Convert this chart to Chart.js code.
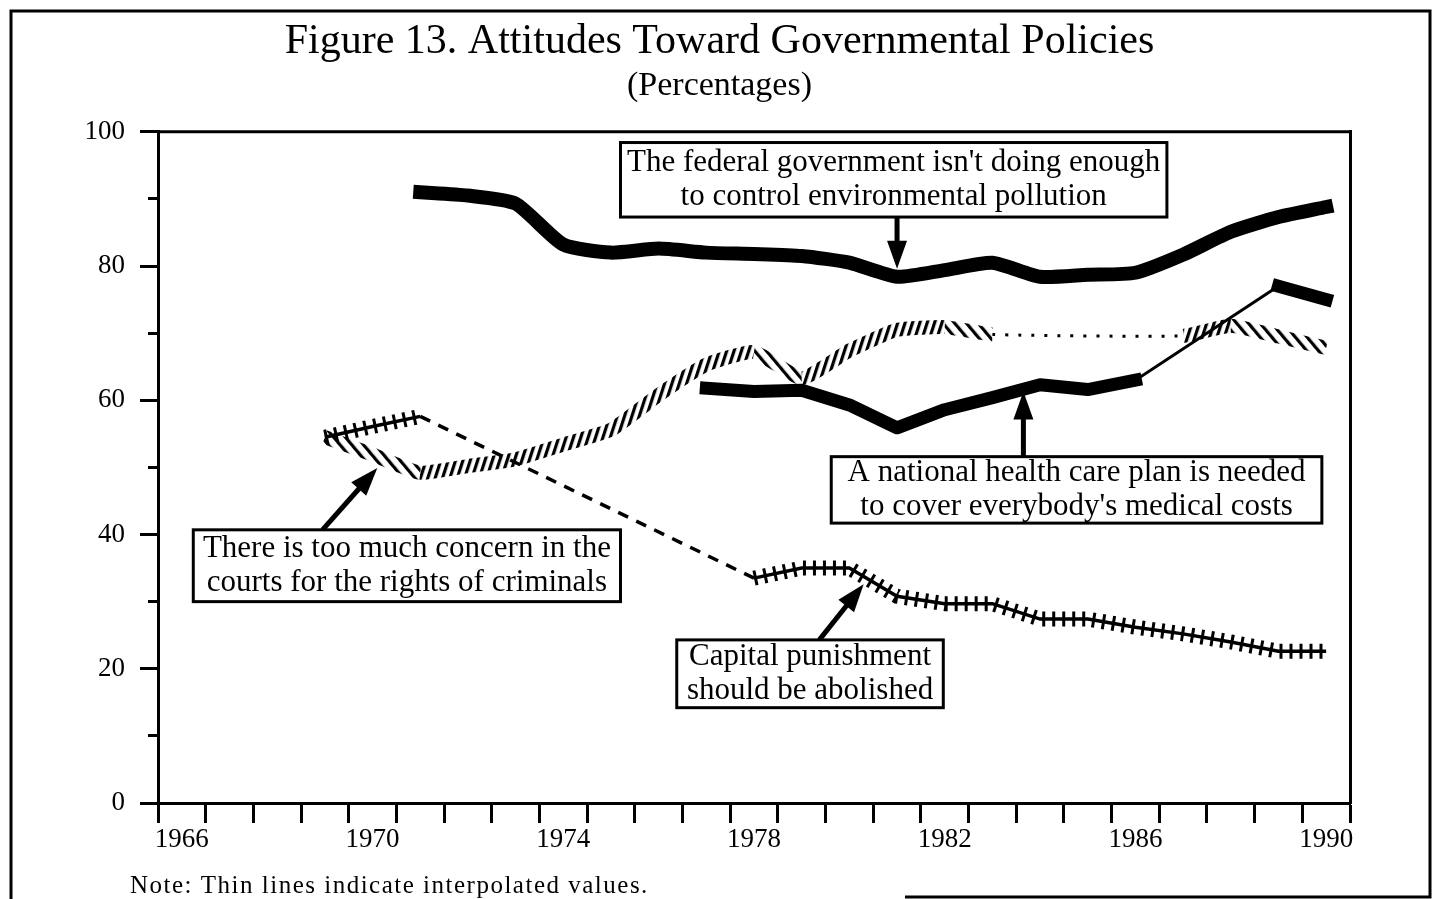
<!DOCTYPE html>
<html>
<head>
<meta charset="utf-8">
<title>Figure 13. Attitudes Toward Governmental Policies</title>
<style>
  html, body { margin: 0; padding: 0; background: #fff; }
  canvas { display: block; }
</style>
<script src="https://cdn.jsdelivr.net/npm/chart.js@4.4.1/dist/chart.umd.min.js"></script>
</head>
<body>
<canvas id="fig" width="1439" height="899"></canvas>
<script>
/* Figure 13 - attitudes toward governmental policies, 1966-1990 */
const tickYears = [1966, 1967, 1968, 1969, 1970, 1971, 1972, 1973, 1974, 1975, 1976, 1977, 1978,
  1979, 1980, 1981, 1982, 1983, 1984, 1985, 1986, 1987, 1988, 1989, 1990];
const labeledYears = [1966, 1970, 1974, 1978, 1982, 1986, 1990];

// environment: gov't not doing enough to control pollution
const envYears = [1971, 1972, 1973, 1974, 1975, 1976, 1977, 1978, 1979, 1980,
  1981, 1982, 1983, 1984, 1985, 1986, 1987, 1988, 1989, 1990];
const envValues = [91, 90.5, 89.3, 83.2, 82, 82.6, 82, 81.8, 81.5, 80.5,
  78.4, 79.4, 80.5, 78.4, 78.7, 79, 81.7, 85.1, 87.3, 88.8];

// national health care plan (1987-88 interpolated)
const healthYears = [1977, 1978, 1979, 1980, 1981, 1982, 1983, 1984, 1985, 1986, 1989, 1990];
const healthValues = [61.8, 61.3, 61.5, 59.3, 55.9, 58.6, 60.4, 62.3, 61.6, 63, 77, 75];

// courts too concerned with rights of criminals (1984-86 interpolated)
const courtsYears = [1969, 1970, 1971, 1972, 1973, 1974, 1975, 1976, 1977, 1978,
  1979, 1980, 1981, 1982, 1983, 1987, 1988, 1989, 1990];
const courtsValues = [54.5, 51.9, 49.2, 50.2, 51.2, 53.4, 55.6, 60.8, 65.3, 67.2,
  63.3, 67.4, 70.5, 70.9, 69.8, 69.6, 71.1, 69.5, 67.8];

// capital punishment should be abolished (1972-77 interpolated)
const capitalYears = [1969, 1970, 1971, 1978, 1979, 1980, 1981, 1982, 1983, 1984,
  1985, 1986, 1987, 1988, 1989, 1990];
const capitalValues = [54.5, 56.1, 57.6, 33.5, 35, 35, 30.8, 29.7, 29.7, 27.4,
  27.4, 26.2, 25.2, 24, 22.6, 22.6];

// callout boxes, in data units: [x from, x to, y top, y bottom], arrow [x0, y0, x1, y1]
const callouts = [
  { box: [1975.2, 1986.66, 98.4, 87.3],
    lines: ["The federal government isn't doing enough", 'to control environmental pollution'],
    arrow: [1981.0, 87.3, 1981.0, 79.6] },
  { box: [1979.62, 1989.91, 51.6, 41.7],
    lines: ['A national health care plan is needed', "to cover everybody's medical costs"],
    arrow: [1983.65, 51.6, 1983.65, 61.3] },
  { box: [1966.24, 1975.2, 40.7, 30.0],
    lines: ['There is too much concern in the', 'courts for the rights of criminals'],
    arrow: [1968.95, 40.7, 1970.1, 49.9] },
  { box: [1976.38, 1981.97, 24.3, 14.2],
    lines: ['Capital punishment', 'should be abolished'],
    arrow: [1979.37, 24.3, 1980.3, 32.6] },
];

const SERIF = '"Liberation Serif", "Times New Roman", serif';
Chart.defaults.font.family = SERIF;
Chart.defaults.color = '#000';

const canvas = document.getElementById('fig');

function stripes(angle, period, thick) {
  const tile = document.createElement('canvas');
  tile.width = period; tile.height = period;
  const t = tile.getContext('2d');
  t.fillStyle = '#000';
  t.fillRect(0, 0, thick, period);
  const p = canvas.getContext('2d').createPattern(tile, 'repeat');
  p.setTransform(new DOMMatrix().rotateSelf(angle));
  return p;
}
const hatchUp = stripes(18, 7, 3.2);
const hatchDown = stripes(-40, 9, 3.2);

const pts = (xs, ys) => xs.map((x, i) => ({ x, y: ys[i] }));
const gap = (c) => c.p1.parsed.x - c.p0.parsed.x > 1;

function arrow(ctx, x0, y0, x1, y1) {
  const len = Math.hypot(x1 - x0, y1 - y0);
  const ux = (x1 - x0) / len, uy = (y1 - y0) / len;
  const head = 28, half = 10;
  const bx = x1 - ux * head, by = y1 - uy * head;
  ctx.lineWidth = 5;
  ctx.beginPath(); ctx.moveTo(x0, y0); ctx.lineTo(bx + ux * 2, by + uy * 2); ctx.stroke();
  ctx.beginPath();
  ctx.moveTo(x1, y1);
  ctx.lineTo(bx - uy * half, by + ux * half);
  ctx.lineTo(bx + uy * half, by - ux * half);
  ctx.closePath(); ctx.fill();
}

const calloutPlugin = {
  id: 'callouts',
  afterDatasetsDraw(chart) {
    const { ctx, scales: { x, y } } = chart;
    ctx.save();
    ctx.strokeStyle = '#000';
    ctx.fillStyle = '#000';
    callouts.forEach((c) => {
      const a = c.arrow;
      arrow(ctx, x.getPixelForValue(a[0]), y.getPixelForValue(a[1]),
        x.getPixelForValue(a[2]), y.getPixelForValue(a[3]));
      const x0 = x.getPixelForValue(c.box[0]), x1 = x.getPixelForValue(c.box[1]);
      const y0 = y.getPixelForValue(c.box[2]), y1 = y.getPixelForValue(c.box[3]);
      ctx.fillStyle = '#fff';
      ctx.fillRect(x0, y0, x1 - x0, y1 - y0);
      ctx.lineWidth = 3;
      ctx.strokeRect(x0, y0, x1 - x0, y1 - y0);
      ctx.fillStyle = '#000';
      ctx.font = '31px ' + SERIF;
      ctx.textAlign = 'center';
      ctx.textBaseline = 'middle';
      const cx = (x0 + x1) / 2, cy = (y0 + y1) / 2;
      c.lines.forEach((t, i) => ctx.fillText(t, cx, cy + (i - (c.lines.length - 1) / 2) * 34));
    });
    ctx.restore();
  },
};

const framePlugin = {
  id: 'frame',
  afterDraw(chart) {
    const { ctx, chartArea: ca } = chart;
    ctx.save();
    ctx.strokeStyle = '#000';
    ctx.lineWidth = 3;
    ctx.beginPath();
    ctx.moveTo(ca.left, ca.top); ctx.lineTo(ca.right, ca.top);
    ctx.stroke();
    // page border
    ctx.beginPath();
    ctx.moveTo(11, 899); ctx.lineTo(11, 11); ctx.lineTo(1430, 11); ctx.lineTo(1430, 897); ctx.lineTo(905, 897);
    ctx.stroke();
    ctx.fillStyle = '#000';
    ctx.font = '25px ' + SERIF;
    ctx.letterSpacing = '1.5px';
    ctx.textAlign = 'left';
    ctx.textBaseline = 'middle';
    ctx.fillText('Note: Thin lines indicate interpolated values.', 130, 886);
    ctx.restore();
  },
};

new Chart(canvas, {
  type: 'line',
  data: {
    datasets: [
      {
        label: 'Environment',
        data: pts(envYears, envValues),
        borderColor: '#000', borderWidth: 14, tension: 0.2,
        borderCapStyle: 'square', borderJoinStyle: 'round',
      },
      {
        label: 'Health care',
        data: pts(healthYears, healthValues),
        borderColor: '#000', borderWidth: 13, tension: 0,
        borderCapStyle: 'square', borderJoinStyle: 'round',
        segment: { borderWidth: (c) => (gap(c) ? 3 : 13) },
      },
      {
        label: 'Courts',
        data: pts(courtsYears, courtsValues),
        borderColor: hatchDown, borderWidth: 14, tension: 0.15,
        borderCapStyle: 'butt', borderJoinStyle: 'round',
        segment: {
          borderColor: (c) => (gap(c) ? '#000' : c.p1.parsed.y > c.p0.parsed.y ? hatchUp : hatchDown),
          borderWidth: (c) => (gap(c) ? 3 : 14),
          borderDash: (c) => (gap(c) ? [3, 10] : []),
        },
      },
      {
        label: 'Capital punishment',
        data: pts(capitalYears, capitalValues),
        borderColor: '#000', borderWidth: 3.5, tension: 0,
        segment: { borderDash: (c) => (gap(c) ? [11, 9] : []) },
      },
      {
        label: 'Capital punishment ties',
        data: pts(capitalYears, capitalValues),
        borderColor: '#000', borderWidth: 15, tension: 0, borderDash: [3, 7],
        borderCapStyle: 'butt',
        segment: { borderColor: (c) => (gap(c) ? 'rgba(0,0,0,0)' : '#000') },
      },
    ],
  },
  options: {
    responsive: false,
    animation: false,
    devicePixelRatio: 1,
    layout: { padding: 0 },
    elements: { point: { radius: 0, hoverRadius: 0 } },
    plugins: {
      legend: { display: false },
      tooltip: { enabled: false },
      title: {
        display: true,
        text: 'Figure 13. Attitudes Toward Governmental Policies',
        color: '#000',
        font: { size: 42, weight: 'normal', lineHeight: 1.2 },
        padding: { top: 17, bottom: 0 },
      },
      subtitle: {
        display: true,
        text: '(Percentages)',
        color: '#000',
        font: { size: 34, weight: 'normal', lineHeight: 1.1 },
        padding: { top: 0, bottom: 27 },
      },
    },
    scales: {
      x: {
        type: 'linear',
        min: 1965.5,
        max: 1990.5,
        afterBuildTicks: (axis) => { axis.ticks = tickYears.map((v) => ({ value: v })); },
        afterFit: (s) => { s.height = 96; },
        grid: { offset: true, drawOnChartArea: false, tickLength: 20, tickWidth: 3, tickColor: '#000' },
        border: { color: '#000', width: 3 },
        ticks: {
          autoSkip: false, maxRotation: 0, padding: 1, color: '#000',
          font: { size: 27 },
          callback: (v) => (labeledYears.includes(v) ? String(v) : ''),
        },
      },
      y: {
        position: 'left',
        weight: 2,
        min: 0,
        max: 100,
        afterFit: (s) => { s.width = 158; },
        grid: { drawOnChartArea: false, tickLength: 18, tickWidth: 3, tickColor: '#000' },
        border: { color: '#000', width: 3 },
        ticks: { stepSize: 20, padding: 15, color: '#000', font: { size: 27 } },
      },
      yMinor: {
        type: 'linear',
        position: 'left',
        weight: 1,
        min: 0,
        max: 100,
        afterFit: (s) => { s.width = 0; },
        grid: { drawOnChartArea: false, tickLength: 10, tickWidth: 3, tickColor: '#000' },
        border: { display: false },
        ticks: { stepSize: 10, display: false },
      },
      yRight: {
        type: 'linear',
        position: 'right',
        min: 0,
        max: 100,
        afterFit: (s) => { s.width = 89; },
        grid: { display: false, drawTicks: false },
        border: { color: '#000', width: 3 },
        ticks: { display: false },
      },
    },
  },
  plugins: [calloutPlugin, framePlugin],
});
</script>
</body>
</html>
